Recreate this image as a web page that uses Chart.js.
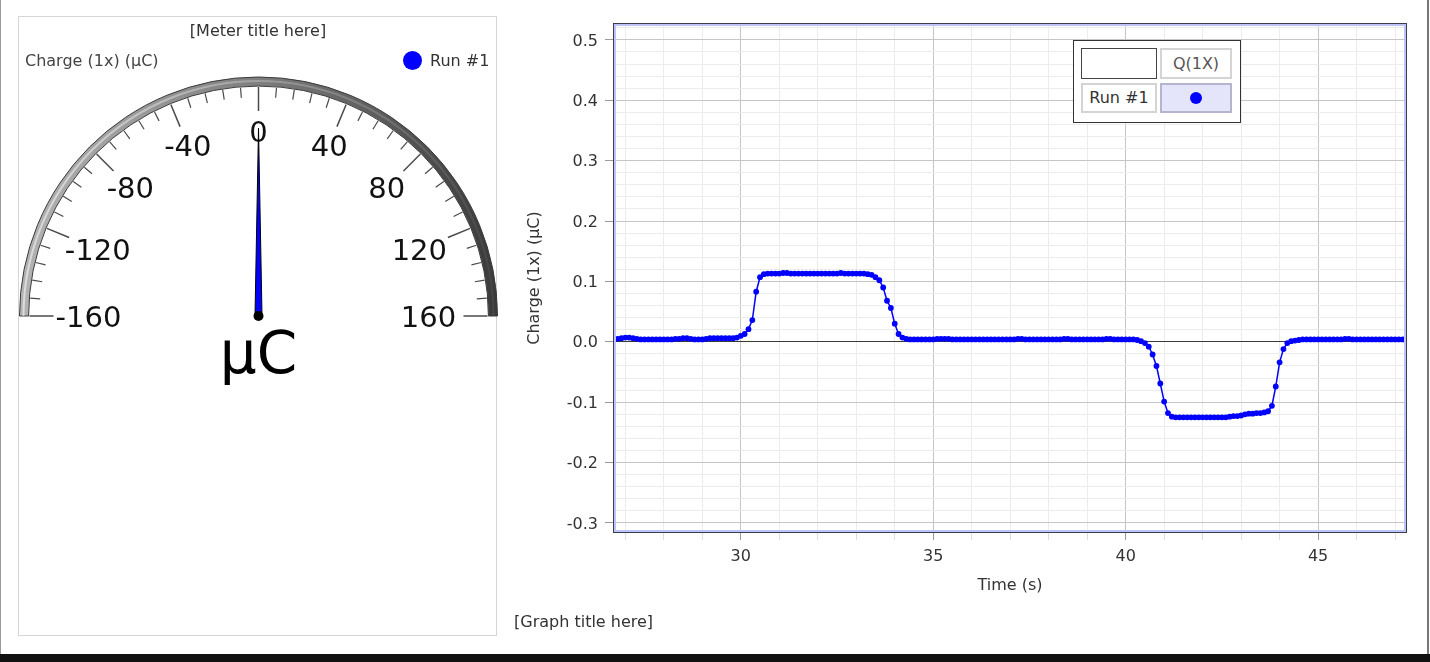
<!DOCTYPE html>
<html><head><meta charset="utf-8">
<script src="https://cdn.jsdelivr.net/npm/chart.js@4.4.1/dist/chart.umd.min.js"></script>
<style>
html,body{margin:0;padding:0;background:#fff;width:1430px;height:662px;overflow:hidden;font-family:'DejaVu Sans',sans-serif;}
.abs{position:absolute;}
.t16{font-size:16px;line-height:20px;color:#333;white-space:nowrap;}
.cell{position:absolute;box-sizing:border-box;text-align:center;font-size:16px;white-space:nowrap;}
</style></head><body>
<div class="abs" style="left:0;top:0;width:1px;height:654px;background:#9a9a9a"></div>
<div class="abs" style="left:1427px;top:0;width:2px;height:654px;background:#777"></div>
<div class="abs" style="left:0;top:654px;width:1430px;height:8px;background:#111"></div>

<div class="abs" style="left:18px;top:16px;width:479px;height:620px;border:1px solid #d6d6d6;box-sizing:border-box"></div>
<canvas id="meter" class="abs" style="left:18px;top:16px;width:481px;height:621px" width="481" height="621"></canvas>
<div class="abs t16" style="left:18px;top:21px;width:480px;text-align:center">[Meter title here]</div>
<div class="abs t16" style="left:25px;top:51px;color:#444">Charge (1x) (μC)</div>
<div class="abs" style="left:403px;top:51px;width:19px;height:19px;border-radius:50%;background:#0000ff"></div>
<div class="abs t16" style="left:430px;top:51px">Run #1</div>

<canvas id="graph" class="abs" style="left:505px;top:0;width:921px;height:654px" width="921" height="654"></canvas>
<div class="abs t16" style="left:514px;top:612px">[Graph title here]</div>

<div class="abs" style="left:1073px;top:40px;width:168px;height:83px;border:1px solid #333;background:#fff;box-sizing:border-box"></div>
<div class="cell" style="left:1081px;top:48px;width:76px;height:31px;border:1.5px solid #444;background:#fff"></div>
<div class="cell" style="left:1160px;top:48px;width:72px;height:31px;border:2px solid #d4d4d4;background:#fff;color:#555;line-height:27px">Q(1X)</div>
<div class="cell" style="left:1081px;top:83px;width:76px;height:30px;border:2px solid #d4d4d4;background:#fff;color:#333;line-height:26px">Run #1</div>
<div class="cell" style="left:1160px;top:83px;width:72px;height:30px;border:2px solid #b4b4cc;background:#e4e4fb"></div>
<div class="abs" style="left:1190px;top:92px;width:12px;height:12px;border-radius:50%;background:#0000ff"></div>

<script>
// ---- Graph data (Run #1, Q(1X)) ----
const timeS = [
  26.6, 26.7, 26.8, 26.9,
  27.0, 27.1, 27.2, 27.3, 27.4, 27.5, 27.6, 27.7, 27.8, 27.9,
  28.0, 28.1, 28.2, 28.3, 28.4, 28.5, 28.6, 28.7, 28.8, 28.9,
  29.0, 29.1, 29.2, 29.3, 29.4, 29.5, 29.6, 29.7, 29.8, 29.9,
  30.0, 30.1, 30.2, 30.3, 30.4, 30.5, 30.6, 30.7, 30.8, 30.9,
  31.0, 31.1, 31.2, 31.3, 31.4, 31.5, 31.6, 31.7, 31.8, 31.9,
  32.0, 32.1, 32.2, 32.3, 32.4, 32.5, 32.6, 32.7, 32.8, 32.9,
  33.0, 33.1, 33.2, 33.3, 33.4, 33.5, 33.6, 33.7, 33.8, 33.9,
  34.0, 34.1, 34.2, 34.3, 34.4, 34.5, 34.6, 34.7, 34.8, 34.9,
  35.0, 35.1, 35.2, 35.3, 35.4, 35.5, 35.6, 35.7, 35.8, 35.9,
  36.0, 36.1, 36.2, 36.3, 36.4, 36.5, 36.6, 36.7, 36.8, 36.9,
  37.0, 37.1, 37.2, 37.3, 37.4, 37.5, 37.6, 37.7, 37.8, 37.9,
  38.0, 38.1, 38.2, 38.3, 38.4, 38.5, 38.6, 38.7, 38.8, 38.9,
  39.0, 39.1, 39.2, 39.3, 39.4, 39.5, 39.6, 39.7, 39.8, 39.9,
  40.0, 40.1, 40.2, 40.3, 40.4, 40.5, 40.6, 40.7, 40.8, 40.9,
  41.0, 41.1, 41.2, 41.3, 41.4, 41.5, 41.6, 41.7, 41.8, 41.9,
  42.0, 42.1, 42.2, 42.3, 42.4, 42.5, 42.6, 42.7, 42.8, 42.9,
  43.0, 43.1, 43.2, 43.3, 43.4, 43.5, 43.6, 43.7, 43.8, 43.9,
  44.0, 44.1, 44.2, 44.3, 44.4, 44.5, 44.6, 44.7, 44.8, 44.9,
  45.0, 45.1, 45.2, 45.3, 45.4, 45.5, 45.6, 45.7, 45.8, 45.9,
  46.0, 46.1, 46.2, 46.3, 46.4, 46.5, 46.6, 46.7, 46.8, 46.9,
  47.0, 47.1, 47.2, 47.3, 47.4
];
const chargeUC = [
  0.004, 0.004, 0.005, 0.006,
  0.007, 0.007, 0.006, 0.005, 0.004, 0.004, 0.004, 0.004, 0.004, 0.004,
  0.004, 0.004, 0.004, 0.005, 0.005, 0.006, 0.006, 0.005, 0.004, 0.004,
  0.004, 0.005, 0.006, 0.006, 0.006, 0.006, 0.006, 0.006, 0.006, 0.007,
  0.010, 0.013, 0.021, 0.036, 0.083, 0.107, 0.112, 0.113, 0.113, 0.113,
  0.113, 0.114, 0.114, 0.113, 0.113, 0.113, 0.113, 0.113, 0.113, 0.113,
  0.113, 0.113, 0.113, 0.113, 0.113, 0.113, 0.114, 0.113, 0.113, 0.113,
  0.113, 0.113, 0.113, 0.112, 0.111, 0.107, 0.102, 0.090, 0.068, 0.056,
  0.030, 0.013, 0.007, 0.005, 0.004, 0.004, 0.004, 0.004, 0.004, 0.004,
  0.004, 0.005, 0.005, 0.005, 0.005, 0.004, 0.004, 0.004, 0.004, 0.004,
  0.004, 0.004, 0.004, 0.004, 0.004, 0.004, 0.004, 0.004, 0.004, 0.004,
  0.004, 0.004, 0.005, 0.005, 0.004, 0.004, 0.004, 0.004, 0.004, 0.004,
  0.004, 0.004, 0.004, 0.004, 0.005, 0.005, 0.004, 0.004, 0.004, 0.004,
  0.004, 0.004, 0.004, 0.004, 0.004, 0.005, 0.005, 0.004, 0.004, 0.004,
  0.004, 0.004, 0.004, 0.003, 0.001, -0.002, -0.008, -0.021, -0.040, -0.069,
  -0.099, -0.118, -0.124, -0.125, -0.125, -0.125, -0.125, -0.125, -0.125, -0.125,
  -0.125, -0.125, -0.125, -0.125, -0.125, -0.125, -0.125, -0.124, -0.123, -0.123,
  -0.122, -0.120, -0.119, -0.119, -0.118, -0.118, -0.117, -0.115, -0.106, -0.074,
  -0.034, -0.012, -0.002, 0.001, 0.002, 0.003, 0.004, 0.004, 0.004, 0.004,
  0.004, 0.004, 0.004, 0.004, 0.004, 0.004, 0.004, 0.005, 0.005, 0.004,
  0.004, 0.004, 0.004, 0.004, 0.004, 0.004, 0.004, 0.004, 0.004, 0.004,
  0.004, 0.004, 0.004, 0.004, 0.004
];
const xTickValues = [30, 35, 40, 45];
const xTickLabels = ['30', '35', '40', '45'];
const yTickValues = [-0.3, -0.2, -0.1, 0.0, 0.1, 0.2, 0.3, 0.4, 0.5];
const yTickLabels = ['-0.3', '-0.2', '-0.1', '0.0', '0.1', '0.2', '0.3', '0.4', '0.5'];
const xMin = 26.68, xMax = 47.31;
const yMin = -0.3166, yMax = 0.528;
const xMinorStep = 1, yMinorStep = 0.02;

// ---- Meter data ----
const meterMin = -160, meterMax = 160;
const meterLabels = [-160, -120, -80, -40, 0, 40, 80, 120, 160];
const meterMinorStep = 8;
const meterUnit = 'μC';
const meterValue = chargeUC[chargeUC.length - 1];

Chart.defaults.font.family = "'DejaVu Sans', sans-serif";
Chart.defaults.font.size = 16;
Chart.defaults.color = '#333';

const near = (a, b) => Math.abs(a - b) < 1e-7;
const yMajorIndex = v => yTickValues.findIndex(t => near(t, v));
const xMajorIndex = v => xTickValues.findIndex(t => near(t, v));

function gridTicks(lo, hi, step) {
  const out = [];
  const k0 = Math.ceil(lo / step - 1e-9), k1 = Math.floor(hi / step + 1e-9);
  for (let k = k0; k <= k1; k++) out.push({ value: Math.round(k * step * 1000) / 1000 });
  return out;
}

const framePlugin = {
  id: 'frame',
  afterDatasetsDraw(chart) {
    const {ctx, chartArea: a} = chart;
    ctx.save();
    ctx.strokeStyle = '#bcc4fa'; ctx.lineWidth = 2;
    ctx.strokeRect(a.left + 2, a.top + 2, a.right - a.left - 4, a.bottom - a.top - 4);
    ctx.strokeStyle = '#3c3c4c'; ctx.lineWidth = 1;
    ctx.strokeRect(a.left + 0.5, a.top + 0.5, a.right - a.left - 1, a.bottom - a.top - 1);
    ctx.restore();
  }
};

new Chart(document.getElementById('graph'), {
  type: 'scatter',
  data: { datasets: [{
    label: 'Run #1',
    data: timeS.map((t, i) => ({x: t, y: chargeUC[i]})),
    showLine: true, borderColor: '#0000ff', backgroundColor: '#0000ff',
    borderWidth: 1.5, pointRadius: 2.9, pointBorderWidth: 0, pointHoverRadius: 2.9, clip: 0
  }]},
  options: {
    responsive: false, animation: false, events: [],
    layout: { padding: { left: 0, top: 23, right: 19, bottom: 59 } },
    plugins: { legend: { display: false }, tooltip: { enabled: false } },
    scales: {
      x: {
        type: 'linear', position: 'bottom', min: xMin, max: xMax,
        afterFit: s => { s.height = 62; },
        afterBuildTicks: s => { s.ticks = gridTicks(xMin, xMax, xMinorStep); },
        border: { display: false },
        ticks: { autoSkip: false, maxRotation: 0, padding: 7, color: '#333',
          callback: v => { const k = xMajorIndex(v); return k >= 0 ? xTickLabels[k] : ''; } },
        grid: {
          color: c => xMajorIndex(c.tick.value) >= 0 ? '#c6c6c6' : '#ececec',
          tickColor: c => xMajorIndex(c.tick.value) >= 0 ? '#9a9a9a' : '#dddddd',
          tickLength: 7, lineWidth: 1
        },
        title: { display: true, text: 'Time (s)', color: '#333', padding: { top: 0, bottom: 0 } }
      },
      y: {
        type: 'linear', position: 'left', min: yMin, max: yMax,
        afterFit: s => { s.width = 108; },
        afterBuildTicks: s => { s.ticks = gridTicks(yMin, yMax, yMinorStep); },
        border: { display: false },
        ticks: { autoSkip: false, padding: 7, labelOffset: 1.5, color: '#333',
          callback: v => { const k = yMajorIndex(v); return k >= 0 ? yTickLabels[k] : ''; } },
        grid: {
          color: c => { const v = c.tick.value; if (near(v, 0)) return '#3a3a3a'; return yMajorIndex(v) >= 0 ? '#c6c6c6' : '#ececec'; },
          tickColor: c => yMajorIndex(c.tick.value) >= 0 ? '#9a9a9a' : 'rgba(0,0,0,0)',
          tickLength: 8, lineWidth: 1
        },
        title: { display: true, text: 'Charge (1x) (μC)', color: '#333', padding: { top: 20.4, bottom: 0 } }
      }
    }
  },
  plugins: [framePlugin]
});

// ---- Meter ----
const meterPlugin = {
  id: 'meterDial',
  afterDatasetsDraw(chart) {
    const arcEl = chart.getDatasetMeta(0).data[0];
    const cx = arcEl.x, cy = arcEl.y, R = arcEl.outerRadius;
    const ctx = chart.ctx;
    const ang = v => Math.PI + (v - meterMin) / (meterMax - meterMin) * Math.PI;
    ctx.save();
    const hg = ctx.createLinearGradient(cx - R, 0, cx + R, 0);
    hg.addColorStop(0, 'rgba(255,255,255,0.55)');
    hg.addColorStop(0.5, 'rgba(255,255,255,0.25)');
    hg.addColorStop(1, 'rgba(255,255,255,0.05)');
    ctx.strokeStyle = hg; ctx.lineWidth = 2;
    ctx.beginPath(); ctx.arc(cx, cy, R - 4, Math.PI, 2 * Math.PI); ctx.stroke();
    const nTicks = Math.round((meterMax - meterMin) / meterMinorStep);
    for (let k = 0; k <= nTicks; k++) {
      const v = meterMin + k * meterMinorStep;
      const a = ang(v);
      const major = meterLabels.includes(v);
      const r1 = R - 10, r2 = major ? R - 34 : R - 20;
      ctx.strokeStyle = '#4a4a4a'; ctx.lineWidth = major ? 1.5 : 1.2;
      ctx.beginPath();
      ctx.moveTo(cx + r1 * Math.cos(a), cy + r1 * Math.sin(a));
      ctx.lineTo(cx + r2 * Math.cos(a), cy + r2 * Math.sin(a));
      ctx.stroke();
    }
    const fs = 29;
    ctx.font = fs + "px 'DejaVu Sans'";
    ctx.fillStyle = '#111'; ctx.textAlign = 'center'; ctx.textBaseline = 'alphabetic';
    meterLabels.forEach(v => {
      const phi = (v - (meterMin + meterMax) / 2) / ((meterMax - meterMin) / 2) * Math.PI / 2;
      const s = Math.sin(phi);
      const rc = 185 - 15 * s * s * s * s;
      const x = cx + rc * s, y = cy - rc * Math.cos(phi);
      ctx.fillText(String(v), x, y + 0.3645 * fs);
    });
    const a = ang(meterValue);
    const tipR = 188, hw = 3.5;
    const px = -Math.sin(a), py = Math.cos(a);
    ctx.beginPath();
    ctx.moveTo(cx + hw * px, cy + hw * py);
    ctx.lineTo(cx + tipR * Math.cos(a), cy + tipR * Math.sin(a));
    ctx.lineTo(cx - hw * px, cy - hw * py);
    ctx.closePath();
    ctx.fillStyle = '#0000ff'; ctx.fill();
    ctx.strokeStyle = '#000'; ctx.lineWidth = 1; ctx.stroke();
    ctx.beginPath(); ctx.arc(cx, cy, 5, 0, 2 * Math.PI); ctx.fillStyle = '#000'; ctx.fill();
    ctx.font = "58px 'DejaVu Sans'"; ctx.fillStyle = '#000';
    ctx.fillText(meterUnit, cx, cy + 57);
    ctx.restore();
  }
};

new Chart(document.getElementById('meter'), {
  type: 'doughnut',
  data: { labels: ['Q(1X)'], datasets: [{
    data: [meterMax - meterMin],
    backgroundColor: c => {
      const {ctx, chartArea} = c.chart;
      if (!chartArea) return '#888';
      const g = ctx.createLinearGradient(chartArea.left, 0, chartArea.right, 0);
      g.addColorStop(0, '#b4b4b4'); g.addColorStop(0.5, '#7e7e7e'); g.addColorStop(1, '#3a3a3a');
      return g;
    },
    borderColor: '#3a3a3a', borderWidth: 1
  }]},
  options: {
    responsive: false, animation: false, events: [],
    rotation: -90, circumference: 180, radius: 239, cutout: '96.2%',
    layout: { padding: { left: 0, right: 0, top: 61, bottom: 321 } },
    plugins: { legend: { display: false }, tooltip: { enabled: false } }
  },
  plugins: [meterPlugin]
});
</script>
</body></html>
